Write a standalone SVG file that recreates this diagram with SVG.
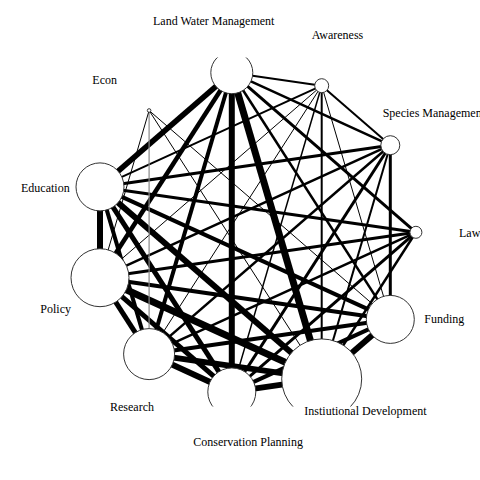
<svg xmlns="http://www.w3.org/2000/svg" width="480" height="480" viewBox="0 0 480 480">
<style>
.bg{fill:#ffffff}
line{stroke:#000;stroke-linecap:butt}
.e1{stroke-width:1}
.eg{stroke-width:1.2;stroke:#888}
.e15{stroke-width:1.5}
.e2{stroke-width:2}
.e25{stroke-width:2.5}
.e3{stroke-width:3}
.e4{stroke-width:4}
.e45{stroke-width:4.5}
.e5{stroke-width:5}
.e55{stroke-width:5.5}
.e6{stroke-width:6}
.e7{stroke-width:7}
circle{fill:#fff;stroke:#333;stroke-width:1}
text{font-family:"Liberation Serif","Times New Roman",serif;font-size:12px;fill:#000}
</style>
<defs>
<clipPath id="plot"><rect x="0" y="57.5" width="480" height="349"/></clipPath>
</defs>
<rect class="bg" x="0" y="0" width="480" height="480"/>
<g clip-path="url(#plot)">
<g id="connectors">
<!-- LWM -->
<line class="e2" x1="231.8" y1="72.7" x2="321.7" y2="85.7"/>
<line class="e25" x1="231.8" y1="72.7" x2="390.3" y2="145.2"/>
<line class="e3" x1="231.8" y1="72.7" x2="415.9" y2="232.3"/>
<line class="e25" x1="231.8" y1="72.7" x2="390.3" y2="319.4"/>
<line class="e7" x1="231.8" y1="72.7" x2="321.7" y2="378.9"/>
<line class="e6" x1="231.8" y1="72.7" x2="231.8" y2="391.9"/>
<line class="e4" x1="231.8" y1="72.7" x2="149.1" y2="354.1"/>
<line class="e45" x1="231.8" y1="72.7" x2="100" y2="277.7"/>
<line class="e55" x1="231.8" y1="72.7" x2="100" y2="186.9"/>
<!-- Awareness -->
<line class="e2" x1="321.7" y1="85.7" x2="390.3" y2="145.2"/>
<line class="e1" x1="321.7" y1="85.7" x2="390.3" y2="319.4"/>
<line class="e2" x1="321.7" y1="85.7" x2="321.7" y2="378.9"/>
<line class="e15" x1="321.7" y1="85.7" x2="231.8" y2="391.9"/>
<line class="e1" x1="321.7" y1="85.7" x2="149.1" y2="354.1"/>
<line class="e1" x1="321.7" y1="85.7" x2="100" y2="277.7"/>
<line class="e2" x1="321.7" y1="85.7" x2="100" y2="186.9"/>
<!-- Species Management -->
<line class="e3" x1="390.3" y1="145.2" x2="390.3" y2="319.4"/>
<line class="e2" x1="390.3" y1="145.2" x2="321.7" y2="378.9"/>
<line class="e3" x1="390.3" y1="145.2" x2="231.8" y2="391.9"/>
<line class="e25" x1="390.3" y1="145.2" x2="149.1" y2="354.1"/>
<line class="e25" x1="390.3" y1="145.2" x2="100" y2="277.7"/>
<line class="e3" x1="390.3" y1="145.2" x2="100" y2="186.9"/>
<!-- Law -->
<line class="e3" x1="415.9" y1="232.3" x2="100" y2="186.9"/>
<line class="e3" x1="415.9" y1="232.3" x2="100" y2="277.7"/>
<line class="e25" x1="415.9" y1="232.3" x2="149.1" y2="354.1"/>
<line class="e3" x1="415.9" y1="232.3" x2="231.8" y2="391.9"/>
<line class="e25" x1="415.9" y1="232.3" x2="321.7" y2="378.9"/>
<!-- Funding -->
<line class="e6" x1="390.3" y1="319.4" x2="321.7" y2="378.9"/>
<line class="e4" x1="390.3" y1="319.4" x2="231.8" y2="391.9"/>
<line class="e4" x1="390.3" y1="319.4" x2="149.1" y2="354.1"/>
<line class="e4" x1="390.3" y1="319.4" x2="100" y2="277.7"/>
<line class="e4" x1="390.3" y1="319.4" x2="100" y2="186.9"/>
<line class="e1" x1="390.3" y1="319.4" x2="149.1" y2="110.5"/>
<!-- Institutional Development -->
<line class="e6" x1="321.7" y1="378.9" x2="231.8" y2="391.9"/>
<line class="e6" x1="321.7" y1="378.9" x2="149.1" y2="354.1"/>
<line class="e7" x1="321.7" y1="378.9" x2="100" y2="277.7"/>
<line class="e6" x1="321.7" y1="378.9" x2="100" y2="186.9"/>
<line class="e1" x1="321.7" y1="378.9" x2="149.1" y2="110.5"/>
<!-- Conservation Planning -->
<line class="e6" x1="231.8" y1="391.9" x2="149.1" y2="354.1"/>
<line class="e5" x1="231.8" y1="391.9" x2="100" y2="277.7"/>
<line class="e5" x1="231.8" y1="391.9" x2="100" y2="186.9"/>
<!-- Research -->
<line class="e5" x1="149.1" y1="354.1" x2="100" y2="277.7"/>
<line class="e4" x1="149.1" y1="354.1" x2="100" y2="186.9"/>
<line class="eg" x1="149.1" y1="354.1" x2="149.1" y2="110.5"/>
<!-- Policy -->
<line class="e6" x1="100" y1="277.7" x2="100" y2="186.9"/>
<line class="e1" x1="100" y1="277.7" x2="149.1" y2="110.5"/>
</g>
<g id="node-law"><circle cx="415.9" cy="232.3" r="6"/></g>
<g id="node-funding"><circle cx="390.3" cy="319.4" r="24"/></g>
<g id="node-institutional-development"><circle cx="321.7" cy="378.9" r="40"/></g>
<g id="node-conservation-planning"><circle cx="231.8" cy="391.9" r="24"/></g>
<g id="node-research"><circle cx="149.1" cy="354.1" r="25.5"/></g>
<g id="node-policy"><circle cx="100" cy="277.7" r="29"/></g>
<g id="node-education"><circle cx="100" cy="186.9" r="24"/></g>
<g id="node-econ"><circle cx="149.1" cy="110.5" r="1.8"/></g>
<g id="node-land-water-management"><circle cx="231.8" cy="72.7" r="21"/></g>
<g id="node-awareness"><circle cx="321.7" cy="85.7" r="7"/></g>
<g id="node-species-management"><circle cx="390.3" cy="145.2" r="9.5"/></g>
</g>
<g id="labels">
<text x="153" y="25">Land Water Management</text>
<text x="311.7" y="38.7">Awareness</text>
<text x="382.7" y="116.5">Species Management</text>
<text x="459" y="236.5">Law</text>
<text x="424.3" y="322.7">Funding</text>
<text x="304.3" y="415">Instiutional Development</text>
<text x="193.3" y="446">Conservation Planning</text>
<text x="110" y="410.7">Research</text>
<text x="40.3" y="313.3">Policy</text>
<text x="21" y="192.3">Education</text>
<text x="92.3" y="83.7">Econ</text>
</g>
</svg>
